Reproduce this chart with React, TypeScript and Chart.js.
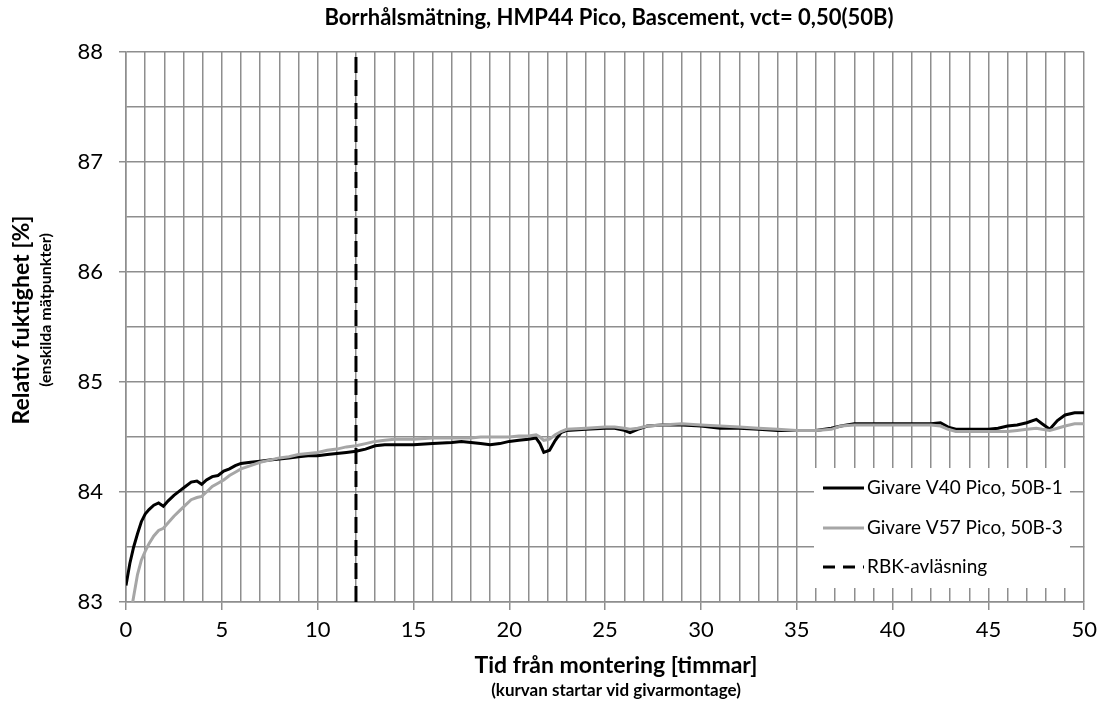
import { useEffect, useRef } from 'react';
import { Chart, registerables } from 'chart.js';

Chart.register(...registerables);

const chartTitle = 'Borrhålsmätning, HMP44 Pico, Bascement, vct= 0,50(50B)';
const xTitle = 'Tid från montering [timmar]';
const xSubtitle = '(kurvan startar vid givarmontage)';
const yTitle = 'Relativ fuktighet [%]';
const ySubtitle = '(enskilda mätpunkter)';
const seriesNames = ['Givare V40 Pico, 50B-1', 'Givare V57 Pico, 50B-3', 'RBK-avläsning'];

const hours = [
  0, 0.2, 0.4, 0.6, 0.8, 1.0, 1.2, 1.45, 1.7, 1.95, 2.2, 2.5, 2.8, 3.1, 3.4, 3.7, 3.95, 4.2, 4.5, 4.8,
  5.1, 5.4, 5.7, 6.0, 6.5, 7, 7.5, 8, 8.5, 9, 9.5, 10, 10.5, 11, 11.5, 12, 12.5, 13, 13.5, 14,
  15, 16, 17, 17.5, 18, 18.5, 19, 19.5, 20, 20.5, 21, 21.4, 21.6, 21.8, 22.1, 22.4, 22.7, 23, 24, 25,
  25.5, 26, 26.3, 26.7, 27.2, 28, 29, 30, 31, 32, 33, 34, 35, 36, 36.8, 37.3, 38, 39, 40, 41,
  42, 42.5, 42.9, 43.3, 44, 45, 45.5, 46, 46.5, 47, 47.5, 47.8, 48.2, 48.6, 49, 49.5, 50,
];

const v40 = [
  83.15, 83.35, 83.5, 83.62, 83.73, 83.8, 83.84, 83.88, 83.9, 83.87, 83.92, 83.97, 84.01, 84.05, 84.09, 84.1, 84.07, 84.11, 84.14, 84.15,
  84.19, 84.21, 84.24, 84.26, 84.27, 84.28, 84.29, 84.3, 84.31, 84.32, 84.33, 84.33, 84.34, 84.35, 84.36, 84.37, 84.39, 84.42, 84.43, 84.43,
  84.43, 84.44, 84.45, 84.46, 84.45, 84.44, 84.43, 84.44, 84.46, 84.47, 84.48, 84.49, 84.44, 84.36, 84.38, 84.47, 84.54, 84.56, 84.57, 84.58,
  84.58, 84.56, 84.54, 84.57, 84.6, 84.61, 84.61, 84.6, 84.58, 84.58, 84.57, 84.56, 84.56, 84.56, 84.58, 84.6, 84.62, 84.62, 84.62, 84.62,
  84.62, 84.63, 84.59, 84.57, 84.57, 84.57, 84.58, 84.6, 84.61, 84.63, 84.66, 84.62, 84.57, 84.65, 84.7, 84.72, 84.72,
];

const v57 = [
  82.6, 82.85, 83.05, 83.25, 83.38, 83.46, 83.53, 83.6, 83.65, 83.67, 83.72, 83.78, 83.83, 83.88, 83.93, 83.95, 83.96, 84.0, 84.05, 84.08,
  84.11, 84.15, 84.18, 84.21, 84.24, 84.27, 84.29, 84.31, 84.32, 84.34, 84.35, 84.36, 84.38, 84.39, 84.41, 84.42, 84.44, 84.46, 84.47, 84.48,
  84.48, 84.49, 84.49, 84.49, 84.49, 84.5, 84.5, 84.5, 84.5, 84.51, 84.51, 84.52, 84.5, 84.47, 84.48, 84.52, 84.55, 84.57, 84.58, 84.59,
  84.59, 84.58, 84.57, 84.58, 84.6, 84.61, 84.62, 84.61, 84.6, 84.59, 84.58, 84.57, 84.56, 84.56, 84.57, 84.6, 84.61, 84.61, 84.61, 84.61,
  84.61, 84.6, 84.57, 84.55, 84.55, 84.55, 84.55, 84.55, 84.56, 84.57, 84.58, 84.57, 84.56, 84.58, 84.6, 84.62, 84.62,
];

const rbkHour = 12;
const yMin = 83;
const yMax = 88;
const xMin = 0;
const xMax = 50;

const FONT = 'Lato, "Open Sans", sans-serif';
const GRID = '#8e8e8e';

const textPlugin = {
  id: 'customTexts',
  afterDatasetsDraw(chart: any) {
    const ctx = chart.ctx;
    ctx.save();
    // legend box
    const bx = 814, by = 468, bw = 256, bh = 120;
    ctx.fillStyle = '#ffffff';
    ctx.fillRect(bx, by, bw, bh);
    const rows = [488, 528, 567];
    const styles = [
      { color: '#000000', dash: [] as number[] },
      { color: '#a6a6a6', dash: [] as number[] },
      { color: '#000000', dash: [12, 8] },
    ];
    rows.forEach((ry, i) => {
      ctx.beginPath();
      ctx.strokeStyle = styles[i].color;
      ctx.lineWidth = 3;
      ctx.setLineDash(styles[i].dash);
      ctx.moveTo(823, ry);
      ctx.lineTo(864, ry);
      ctx.stroke();
      ctx.setLineDash([]);
      ctx.fillStyle = '#000000';
      ctx.font = `19px ${FONT}`;
      ctx.textAlign = 'left';
      ctx.textBaseline = 'middle';
      ctx.fillText(seriesNames[i], 867, ry);
    });
    ctx.restore();
  },
  afterDraw(chart: any) {
    const ctx = chart.ctx;
    const area = chart.chartArea;
    ctx.save();
    ctx.fillStyle = '#000000';
    ctx.textAlign = 'center';
    ctx.textBaseline = 'middle';
    ctx.font = `bold 22px ${FONT}`;
    ctx.fillText(chartTitle, 609, 18);
    const cx = 616;
    ctx.font = `bold 23px ${FONT}`;
    ctx.fillText(xTitle, cx, 666);
    ctx.font = `bold 17px ${FONT}`;
    ctx.fillText(xSubtitle, cx, 691);
    ctx.translate(22, 320);
    ctx.rotate(-Math.PI / 2);
    ctx.font = `bold 23px ${FONT}`;
    ctx.fillText(yTitle, 0, 0);
    ctx.font = `bold 16px ${FONT}`;
    ctx.fillText(ySubtitle, 10, 24);
    ctx.restore();
  },
};

export default function App() {
  const ref = useRef<HTMLCanvasElement | null>(null);
  useEffect(() => {
    if (!ref.current) return;
    const toXY = (vals: number[]) => hours.map((h, i) => ({ x: h, y: vals[i] }));
    const chart = new Chart(ref.current, {
      type: 'line',
      data: {
        datasets: [
          {
            label: seriesNames[0],
            data: toXY(v40),
            borderColor: '#000000',
            borderWidth: 3,
            pointRadius: 0,
            tension: 0,
            order: 2,
          },
          {
            label: seriesNames[1],
            data: toXY(v57),
            borderColor: '#a6a6a6',
            borderWidth: 3,
            pointRadius: 0,
            tension: 0,
            order: 1,
          },
          {
            label: seriesNames[2],
            data: [
              { x: rbkHour, y: yMin },
              { x: rbkHour, y: yMax },
            ],
            borderColor: '#000000',
            borderWidth: 3,
            borderDash: [16, 7],
            pointRadius: 0,
            order: 0,
          },
        ],
      },
      options: {
        animation: false,
        responsive: true,
        maintainAspectRatio: false,
        layout: { padding: { left: 0, right: 17, top: 52, bottom: 0 } },
        plugins: {
          legend: { display: false },
          title: { display: false },
          tooltip: { enabled: false },
        },
        scales: {
          x: {
            type: 'linear',
            min: xMin,
            max: xMax,
            afterFit: (s: any) => {
              s.height = 104;
            },
            ticks: {
              stepSize: 1,
              autoSkip: false,
              maxRotation: 0,
              padding: 7,
              color: '#000000',
              font: { family: FONT, size: 22 },
              callback: (v: any) => (Number(v) % 5 === 0 ? String(v) : ''),
            },
            grid: {
              color: GRID,
              lineWidth: 1.5,
              tickLength: 8,
              tickColor: (c: any) => (c.tick && c.tick.value % 5 === 0 ? GRID : 'rgba(0,0,0,0)'),
            },
            border: { display: true, color: GRID, width: 1.5 },
          },
          y: {
            type: 'linear',
            min: yMin,
            max: yMax,
            afterFit: (s: any) => {
              s.width = 126;
            },
            ticks: {
              stepSize: 0.5,
              autoSkip: false,
              padding: 16,
              color: '#000000',
              font: { family: FONT, size: 22 },
              callback: (v: any) => (Number.isInteger(Number(v)) ? String(v) : ''),
            },
            grid: {
              color: GRID,
              lineWidth: 1.5,
              tickLength: 7,
              tickColor: (c: any) => (c.tick && Number.isInteger(c.tick.value) ? GRID : 'rgba(0,0,0,0)'),
            },
            border: { display: true, color: GRID, width: 1.5 },
          },
        },
      },
      plugins: [textPlugin],
    });
    return () => chart.destroy();
  }, []);

  return (
    <div style={{ position: 'fixed', left: 0, top: 0, width: 1104, height: 706, background: '#ffffff' }}>
      <canvas ref={ref} />
    </div>
  );
}
